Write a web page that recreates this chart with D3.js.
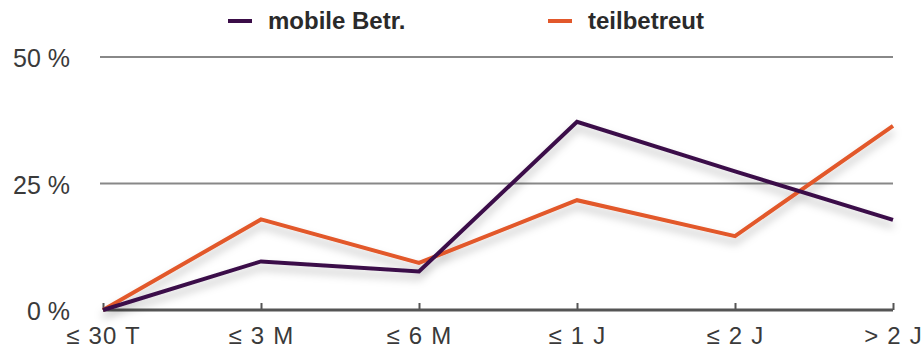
<!DOCTYPE html>
<html>
<head>
<meta charset="utf-8">
<script src="https://cdn.jsdelivr.net/npm/d3@7"></script>
<style>
  html, body { margin: 0; padding: 0; background: #fff; }
  svg { display: block; }
</style>
</head>
<body>
<svg id="chart" width="922" height="350"></svg>
<script>
// Durations (x categories)
const categories = ["≤ 30 T", "≤ 3 M", "≤ 6 M", "≤ 1 J", "≤ 2 J", "> 2 J"];
// Share per duration, in percent
const mobileBetr = [0, 9.6, 7.6, 37.2, 27.4, 17.8];
const teilbetreut = [0, 17.9, 9.3, 21.7, 14.6, 36.4];
const yTicks = [0, 25, 50];
const seriesNames = ["mobile Betr.", "teilbetreut"];
const seriesColors = ["#3b0d48", "#e2582b"];

const svg = d3.select("#chart");
const plotLeft = 103, plotRight = 893, plotTop = 57, plotBottom = 310;

const x = d3.scalePoint().domain(categories).range([plotLeft, plotRight]);
const y = d3.scaleLinear().domain([0, 50]).range([plotBottom, plotTop]);

// soft shadow under the lines
const defs = svg.append("defs");
const f = defs.append("filter").attr("id", "shadow")
  .attr("x", "-10%").attr("y", "-30%").attr("width", "120%").attr("height", "160%");
f.append("feDropShadow").attr("dx", 0).attr("dy", 6).attr("stdDeviation", 4.5)
  .attr("flood-color", "#000").attr("flood-opacity", 0.26);

// horizontal grid lines
svg.append("g")
  .selectAll("line")
  .data(yTicks.filter(d => d > 0))
  .join("line")
  .attr("x1", 100).attr("x2", plotRight)
  .attr("y1", d => y(d)).attr("y2", d => y(d))
  .attr("stroke", "#888").attr("stroke-width", 2);

// y labels
svg.append("g")
  .selectAll("text")
  .data(yTicks)
  .join("text")
  .attr("x", 70).attr("y", d => y(d) + 10)
  .attr("text-anchor", "end")
  .attr("font-family", "'Liberation Sans', Arial, sans-serif")
  .attr("font-size", 25)
  .attr("fill", "#3a3a3a")
  .text(d => d + " %");

// x axis
const xAxis = d3.axisBottom(x).tickSize(-7).tickPadding(0).tickFormat(d => d);
const gx = svg.append("g").attr("transform", `translate(0,${plotBottom})`).call(xAxis);
gx.select(".domain").attr("stroke", "#555").attr("stroke-width", 3)
  .attr("d", `M${plotLeft},0H${plotRight}`);
gx.selectAll(".tick line").attr("stroke", "#555").attr("stroke-width", 2);
gx.selectAll(".tick text")
  .attr("y", 34)
  .attr("dy", 0)
  .attr("font-family", "'Liberation Sans Narrow', 'Liberation Sans', Arial, sans-serif")
  .attr("font-size", 24)
  .attr("letter-spacing", 1.2)
  .attr("fill", "#3a3a3a");

// lines
const line = d3.line().x((d, i) => x(categories[i])).y(d => y(d));
const series = [teilbetreut, mobileBetr];
const seriesColorOrder = [seriesColors[1], seriesColors[0]];
svg.append("g").attr("filter", "url(#shadow)")
  .selectAll("path")
  .data(series)
  .join("path")
  .attr("d", d => line(d))
  .attr("fill", "none")
  .attr("stroke", (d, i) => seriesColorOrder[i])
  .attr("stroke-width", 4)
  .attr("stroke-linejoin", "miter");

// legend
const legendX = [228, 548];
const lg = svg.append("g").selectAll("g").data(seriesNames).join("g")
  .attr("transform", (d, i) => `translate(${legendX[i]},21)`);
lg.append("line").attr("x1", 0).attr("x2", 24).attr("y1", 0).attr("y2", 0)
  .attr("stroke", (d, i) => seriesColors[i]).attr("stroke-width", 4);
lg.append("text").attr("x", 40).attr("y", 8)
  .attr("font-family", "'Liberation Sans', Arial, sans-serif")
  .attr("font-size", 24).attr("font-weight", "bold")
  .attr("fill", "#2a2a2a")
  .text(d => d);
</script>
</body>
</html>
